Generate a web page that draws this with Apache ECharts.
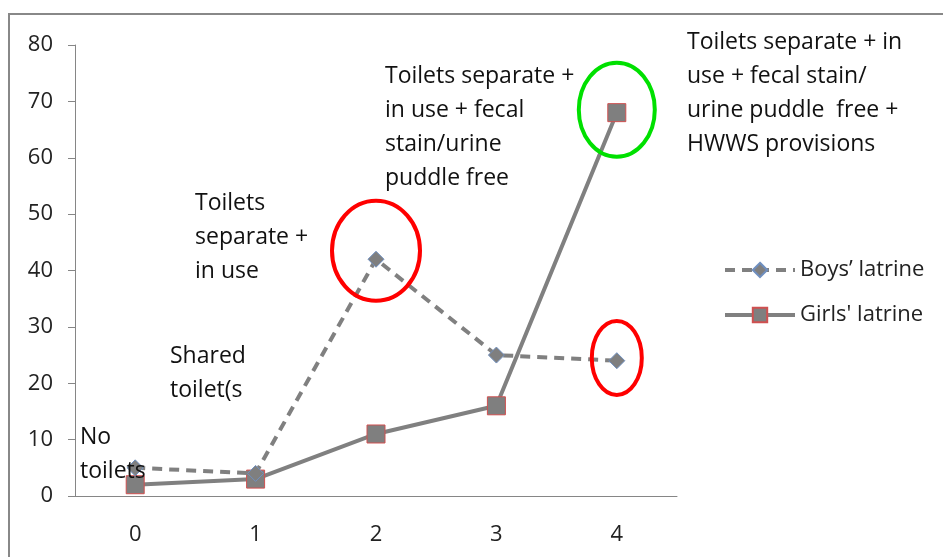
<!DOCTYPE html>
<html>
<head>
<meta charset="utf-8">
<script src="https://cdn.jsdelivr.net/npm/echarts@6/dist/echarts.min.js"></script>
<style>
  html, body { margin: 0; padding: 0; background: #fff; }
  #chart { width: 943px; height: 557px; }
</style>
</head>
<body>
<div id="chart"></div>
<script>
// data
const categories = ['0', '1', '2', '3', '4']
const boys = [5, 4, 42, 25, 24]
const girls = [2, 3, 11, 16, 68]
const yTicks = { min: 0, max: 80, interval: 10 }

// annotation texts (placed by hand, like the original text boxes)
const notes = [
  { text: 'No\ntoilets', x: 80, y: 420 },
  { text: 'Shared\ntoilet(s', x: 170, y: 339 },
  { text: 'Toilets\nseparate +\nin use', x: 195, y: 186 },
  { text: 'Toilets separate +\nin use + fecal\nstain/urine\npuddle free', x: 385, y: 59 },
  { text: 'Toilets separate + in\nuse + fecal stain/\nurine puddle  free +\nHWWS provisions', x: 687, y: 25 }
]

// circles drawn round some points: [category index, value, rx, ry, colour]
const rings = [
  [2, 43.5, 44, 50, '#ff0000'],
  [4, 68.5, 38, 47, '#00e000'],
  [4, 24.5, 25, 37, '#ff0000']
]

const font = '"Open Sans", "DejaVu Sans", sans-serif'
const chart = echarts.init(document.getElementById('chart'))

chart.setOption({
  animation: false,
  grid: { left: 75, right: 266, top: 45, bottom: 61 },
  legend: {
    orient: 'vertical',
    left: 718,
    top: 254,
    itemWidth: 70,
    itemHeight: 18,
    itemGap: 23,
    lineStyle: { width: 4 },
    textStyle: { fontFamily: font, fontSize: 22, color: '#222' },
    data: ["Boys’ latrine", "Girls' latrine"]
  },
  xAxis: {
    type: 'category',
    data: categories,
    axisLine: { lineStyle: { color: '#868686', width: 1 } },
    axisTick: { length: 7, lineStyle: { color: '#868686' } },
    axisLabel: { margin: 28, fontFamily: font, fontSize: 22, color: '#222' }
  },
  yAxis: {
    type: 'value',
    min: yTicks.min,
    max: yTicks.max,
    interval: yTicks.interval,
    axisLine: { show: true, lineStyle: { color: '#868686', width: 1 } },
    axisTick: { show: true, length: 7, lineStyle: { color: '#868686' } },
    splitLine: { show: false },
    axisLabel: { margin: 22, fontFamily: font, fontSize: 22, color: '#222' }
  },
  series: [
    {
      name: "Boys’ latrine",
      type: 'line',
      data: boys,
      symbol: 'diamond',
      symbolSize: 16,
      lineStyle: { color: '#808080', width: 4, type: [10, 7] },
      itemStyle: { color: '#7f7f7f', borderColor: '#6f8fbf', borderWidth: 1 },
      z: 3
    },
    {
      name: "Girls' latrine",
      type: 'line',
      data: girls,
      symbol: 'rect',
      symbolSize: 18,
      lineStyle: { color: '#808080', width: 4 },
      itemStyle: { color: '#7f7f7f', borderColor: '#d05050', borderWidth: 1 },
      z: 2
    }
  ]
})

const graphics = [
  {
    type: 'rect',
    shape: { x: 9, y: 14, width: 960, height: 600 },
    style: { fill: 'none', stroke: '#888', lineWidth: 2 },
    silent: true
  }
]
notes.forEach(n => graphics.push({
  type: 'text',
  x: n.x,
  y: n.y,
  style: { text: n.text, fontFamily: font, fontSize: 23, lineHeight: 34, fill: '#111' },
  z: 10
}))
rings.forEach(([i, v, rx, ry, c]) => {
  const [cx, cy] = chart.convertToPixel({ gridIndex: 0 }, [i, v])
  graphics.push({
    type: 'ellipse',
    shape: { cx, cy, rx, ry },
    style: { fill: 'none', stroke: c, lineWidth: 4 },
    z: 10
  })
})
chart.setOption({ graphic: graphics })
</script>
</body>
</html>
